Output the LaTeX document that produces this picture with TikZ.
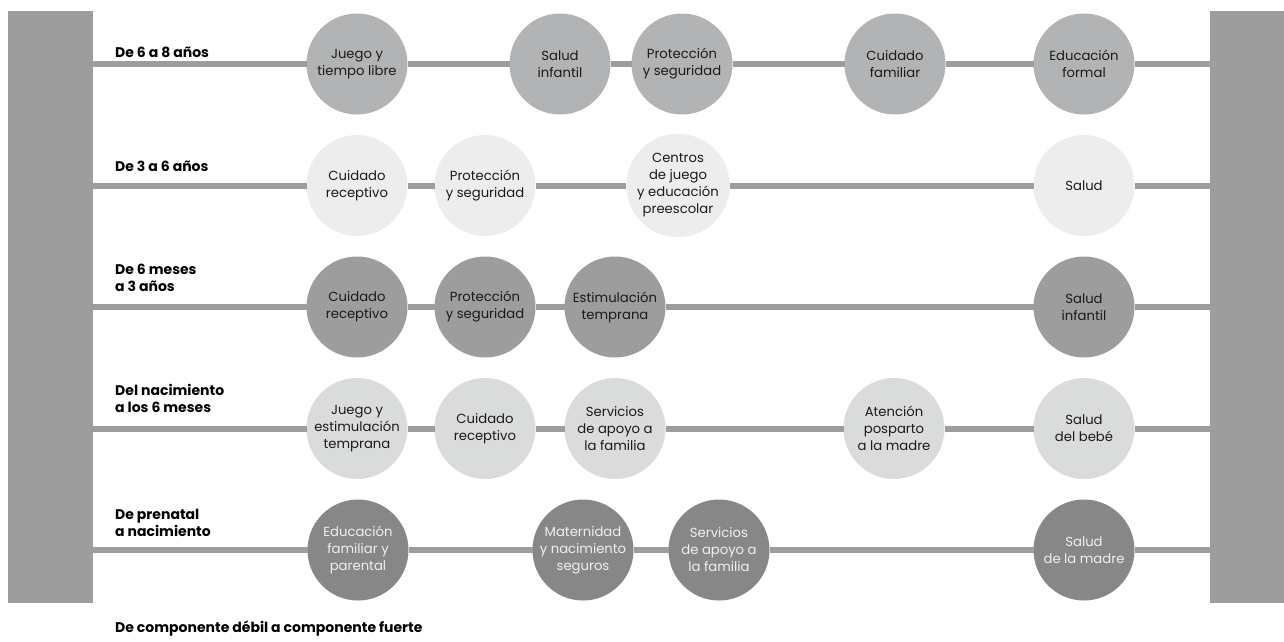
\documentclass[tikz,border=0pt]{standalone}
\usepackage{fontspec}
\setmainfont{Poppins}
\definecolor{barc}{HTML}{9D9D9D}
\definecolor{rowa}{HTML}{B2B3B4}
\definecolor{rowb}{HTML}{EDEDED}
\definecolor{rowc}{HTML}{9D9D9D}
\definecolor{rowd}{HTML}{DADBDB}
\definecolor{rowe}{HTML}{878787}
\definecolor{txtd}{HTML}{1A1A1A}
\definecolor{txtl}{HTML}{F0F0F0}
\begin{document}
\begin{tikzpicture}[x=1pt,y=-1pt,
  bar/.style={fill=barc,draw=none,inner sep=0pt,outer sep=0pt,minimum width=#1},
  circ/.style={circle,fill=#1,draw=none,minimum size=101pt,inner sep=0pt,outer sep=0pt,
    align=center,text=txtd,font=\fontsize{13.2}{17}\selectfont},
  dcirc/.style={circ=rowe,text=txtl},
  conn/.style={draw=barc,line width=6pt},
  rowlbl/.style={anchor=south west,inner sep=0pt,align=left,text=black,
    font=\bfseries\fontsize{14}{17.5}\selectfont}]
\useasboundingbox (0,0) rectangle (1284,641);
% side bars
\node[bar=85pt,minimum height=592pt] (lbar) at (50.5,307) {};
\node[bar=74pt,minimum height=592pt] (rbar) at (1247,307) {};
% row 1
\node[circ=rowa] (a1) at (357,64) {Juego y\\tiempo libre};
\node[circ=rowa] (a2) at (560,64) {Salud\\infantil};
\node[circ=rowa] (a3) at (682,64) {Protección\\y seguridad};
\node[circ=rowa] (a4) at (895,64) {Cuidado\\familiar};
\node[circ=rowa] (a5) at (1084,64) {Educación\\formal};
% row 2
\node[circ=rowb] (b1) at (357,185.5) {Cuidado\\receptivo};
\node[circ=rowb] (b2) at (485,185.5) {Protección\\y seguridad};
\node[circ=rowb] (b3) at (678,185.5) {Centros\\de juego\\y educación\\preescolar};
\node[circ=rowb] (b4) at (1084,185.5) {Salud};
% row 3
\node[circ=rowc] (c1) at (357,307) {Cuidado\\receptivo};
\node[circ=rowc] (c2) at (485,307) {Protección\\y seguridad};
\node[circ=rowc] (c3) at (615,307) {Estimulación\\temprana};
\node[circ=rowc] (c4) at (1084,307) {Salud\\infantil};
% row 4
\node[circ=rowd] (d1) at (357,428.5) {Juego y\\estimulación\\temprana};
\node[circ=rowd] (d2) at (485,428.5) {Cuidado\\receptivo};
\node[circ=rowd] (d3) at (615,428.5) {Servicios\\de apoyo a\\la familia};
\node[circ=rowd] (d4) at (894,428.5) {Atención\\posparto\\a la madre};
\node[circ=rowd] (d5) at (1084,428.5) {Salud\\del bebé};
% row 5
\node[dcirc] (e1) at (358,550) {Educación\\familiar y\\parental};
\node[dcirc] (e2) at (583,550) {Maternidad\\y nacimiento\\seguros};
\node[dcirc] (e3) at (719,550) {Servicios\\de apoyo a\\la familia};
\node[dcirc] (e4) at (1084,550) {Salud\\de la madre};
% connectors
\path[conn] (lbar.east |- a1) -- (a1) (a1) -- (a2) (a2) -- (a3) (a3) -- (a4) (a4) -- (a5) (a5) -- (rbar.west |- a5);
\path[conn] (lbar.east |- b1) -- (b1) (b1) -- (b2) (b2) -- (b3) (b3) -- (b4) (b4) -- (rbar.west |- b4);
\path[conn] (lbar.east |- c1) -- (c1) (c1) -- (c2) (c2) -- (c3) (c3) -- (c4) (c4) -- (rbar.west |- c4);
\path[conn] (lbar.east |- d1) -- (d1) (d1) -- (d2) (d2) -- (d3) (d3) -- (d4) (d4) -- (d5) (d5) -- (rbar.west |- d5);
\path[conn] (lbar.east |- e1) -- (e1) (e1) -- (e2) (e2) -- (e3) (e3) -- (e4) (e4) -- (rbar.west |- e4);
% row labels
\node[rowlbl] (l1) at (115,58) {De 6 a 8 años};
\node[rowlbl] (l2) at (115,172) {De 3 a 6 años};
\node[rowlbl] (l3) at (115,292) {De 6 meses\\a 3 años};
\node[rowlbl] (l4) at (115,413) {Del nacimiento\\a los 6 meses};
\node[rowlbl] (l5) at (115,537) {De prenatal\\a nacimiento};
\node[rowlbl,font=\bfseries\fontsize{14}{18}\selectfont] (bottom) at (115,636) {De componente débil a componente fuerte};
\end{tikzpicture}
\end{document}
